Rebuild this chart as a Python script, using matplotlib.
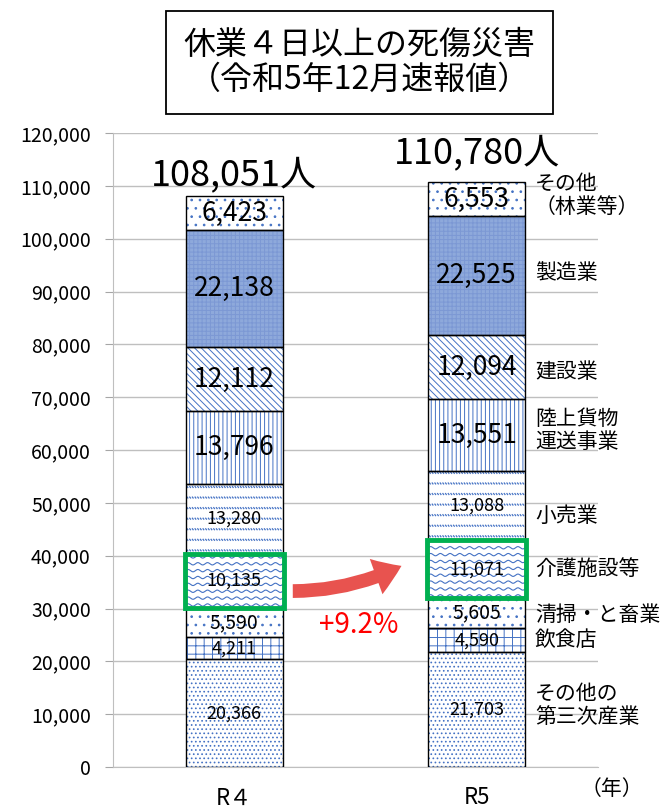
import numpy as np
import matplotlib
matplotlib.use('Agg')
import matplotlib.pyplot as plt
from matplotlib.patches import Rectangle, FancyArrowPatch
from matplotlib.collections import LineCollection

plt.rcParams['font.family'] = ['Noto Sans CJK JP', 'DejaVu Sans']
plt.rcParams['hatch.linewidth'] = 0.7

# data (bottom to top)
years = ['R４', 'R5']
sectors = ['その他の\n第三次産業', '飲食店', '清掃・と畜業', '介護施設等', '小売業',
           '陸上貨物\n運送事業', '建設業', '製造業', 'その他\n（林業等）']
r4 = [20366, 4211, 5590, 10135, 13280, 13796, 12112, 22138, 6423]
r5 = [21703, 4590, 5605, 11071, 13088, 13551, 12094, 22525, 6553]
totals = ['108,051人', '110,780人']
change = '+9.2%'

# style per segment
hatches = ['....', '++', '..', None, None, '||||', '\\\\\\\\\\', '++++', '..']
faces = ['white', 'white', 'white', 'white', 'white', 'white', 'white', '#8EA9DB', 'white']
hcols = ['#4472C4'] * 7 + ['#7C98D4', '#4472C4']
lab_size = [13, 13, 14, 13, 13, 19, 19, 19, 19]
lab_off = [800, 0, -300, 0, -2000, 800, -800, 500, 700]
blue = '#4472C4'

fig = plt.figure(figsize=(6.65, 8.09), dpi=100)
ax = fig.add_axes([0.1699, 0.0519, 0.7293, 0.7837])

x = np.arange(len(years))
w = 0.4
data = np.array([r4, r5])
bottoms = np.zeros(2)
for i in range(len(sectors)):
    vals = data[:, i]
    ax.bar(x, vals, w, bottom=bottoms, color=faces[i], hatch=hatches[i],
           edgecolor=hcols[i], linewidth=0, zorder=2)
    ax.bar(x, vals, w, bottom=bottoms, color='none', edgecolor='black',
           linewidth=1.0, zorder=4)
    for j in range(2):
        left = x[j] - w / 2
        if i == 3:  # waves
            xs = np.linspace(left, left + w, 300)
            for y0 in np.arange(bottoms[j] + 500, bottoms[j] + vals[j] - 200, 1300):
                ax.plot(xs, y0 + 220 * np.sin(2 * np.pi * (xs - left) / 0.04),
                        color=blue, lw=0.8, zorder=3)
        if i == 4:  # rows of small slanted dashes
            segs = []
            for y0 in np.arange(bottoms[j] + 700, bottoms[j] + vals[j] - 300, 2000):
                for xk in np.arange(left + 0.004, left + w - 0.006, 0.011):
                    segs.append([(xk, y0 + 180), (xk + 0.006, y0 - 180)])
            ax.add_collection(LineCollection(segs, colors=blue, lw=0.9, zorder=3))
        ax.text(x[j], bottoms[j] + vals[j] / 2, f'{vals[j]:,}', ha='center',
                va='center', fontsize=lab_size[i], zorder=6)
    bottoms = bottoms + vals

# totals above bars
for j in range(2):
    ax.text(x[j], bottoms[j] + 600 + 1300 * j, totals[j], ha='center',
            va='bottom', fontsize=26, zorder=6)

# sector labels on the right
tops5 = np.cumsum(r5)
for i, s in enumerate(sectors):
    mid = tops5[i] - r5[i] / 2 + lab_off[i]
    ax.text(1.24, mid, s, ha='left', va='center', fontsize=15,
            linespacing=1.05, zorder=6)

# green highlight boxes on 介護施設等
for j in range(2):
    b = np.cumsum(data[j])[2]
    ax.add_patch(Rectangle((x[j] - w / 2 - 0.005, b), w + 0.01, data[j][3],
                           fill=False, edgecolor='#00B050', lw=3.5, zorder=5))

# red arrow
arr = FancyArrowPatch((0.23, 33300), (0.70, 38300), connectionstyle='arc3,rad=0.12',
                      arrowstyle='simple,head_length=1.1,head_width=1.5,tail_width=0.55',
                      mutation_scale=18, color='#E8534F', lw=0, zorder=6)
ax.add_patch(arr)
ax.text(0.515, 26900, change, ha='center', va='center', fontsize=20,
        color='#FF0000', zorder=6)

ax.set_xlim(-0.5, 1.5)
ax.set_ylim(0, 120000)
ax.set_yticks(np.arange(0, 120001, 10000))
ax.set_yticklabels([f'{v:,}' for v in range(0, 120001, 10000)], fontsize=14)
ax.set_xticks(x)
ax.set_xticklabels(years, fontsize=16)
ax.tick_params(axis='x', length=0, pad=14)
ax.tick_params(axis='y', length=6, color='#A6A6A6', pad=10)
ax.grid(axis='y', color='#BFBFBF', lw=1, zorder=0)
ax.set_axisbelow(True)
for sp in ['top', 'right']:
    ax.spines[sp].set_visible(False)
ax.spines['left'].set_color('#BFBFBF')
ax.spines['bottom'].set_color('#BFBFBF')

fig.text(0.92, 0.025, '（年）', fontsize=15, ha='center', va='center')

fig.text(0.541, 0.923, '休業４日以上の死傷災害\n（令和5年12月速報値）', ha='center',
         va='center', fontsize=23, linespacing=1.15,
         bbox=dict(boxstyle='square,pad=0.55', facecolor='white', edgecolor='black', lw=1.3))

fig.savefig('out.png', dpi=100)
